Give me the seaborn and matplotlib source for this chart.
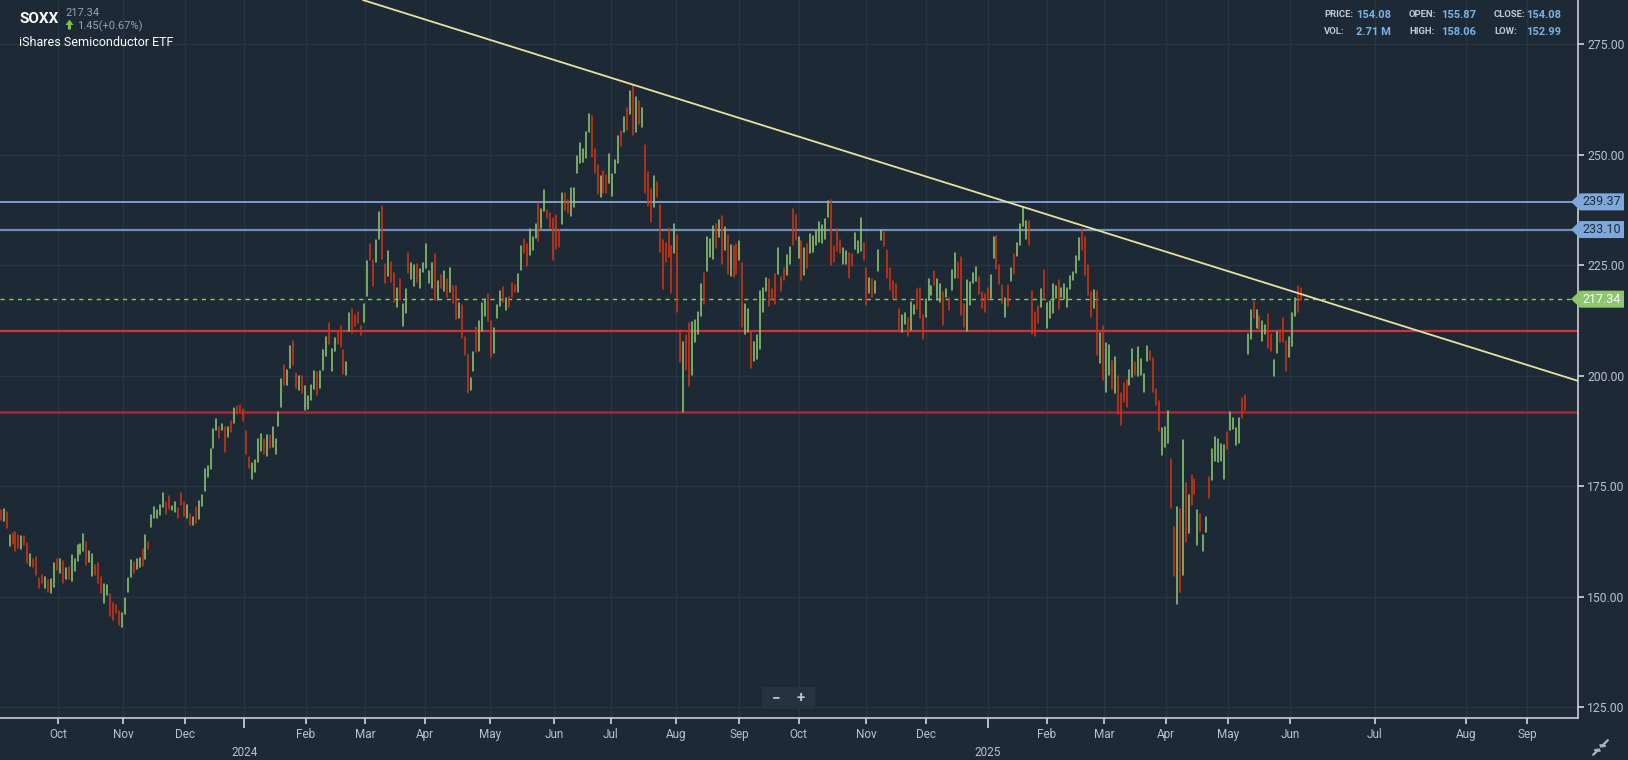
import matplotlib
matplotlib.use("Agg")
import matplotlib.pyplot as plt
import matplotlib.patches as mpatches
import matplotlib.transforms as mtrans
import numpy as np
import pandas as pd
import seaborn as sns

# ---------------- data ----------------
highs = [
    169.6, 169.8, 169.1, 163.9, 164.3, 164.6, 163.9, 163.7, 163.7, 162.2,
    159.6, 158.5, 158.9, 154.2, 154.9, 154.5, 153.7, 154.1, 157.5, 158.6,
    158.5, 158.0, 156.4, 156.6, 159.4, 158.6, 161.7, 161.9, 164.2, 162.3,
    160.4, 159.6, 157.1, 157.5, 154.5, 152.8, 152.6, 150.7, 148.5, 148.1,
    146.7, 146.4, 149.7, 154.2, 158.3, 157.8, 158.5, 158.8, 160.8, 163.9,
    162.4, 168.5, 170.3, 169.6, 170.7, 173.4, 171.4, 172.8, 170.5, 171.4,
    170.0, 173.4, 171.4, 170.7, 168.8, 168.0, 170.3, 171.6, 173.1, 178.9,
    179.6, 183.5, 187.9, 190.2, 188.4, 189.1, 188.4, 188.4, 189.7, 192.7,
    193.1, 193.4, 192.5, 187.6, 181.6, 180.2, 180.9, 185.7, 186.8, 185.7,
    186.6, 186.6, 188.4, 185.7, 191.8, 199.3, 202.4, 201.3, 206.7, 207.9,
    200.6, 199.9, 199.9, 197.7, 195.4, 197.9, 201.1, 200.8, 201.1, 205.8,
    208.8, 211.9, 206.0, 208.6, 210.1, 211.3, 205.8, 203.1, 214.3, 215.1,
    213.7, 214.5, 211.3, 216.2, 226.0, 229.9, 226.2, 230.7, 237.1, 238.4,
    225.3, 228.2, 225.7, 223.3, 219.9, 221.9, 216.2, 219.6, 227.8, 225.6,
    225.1, 225.4, 224.2, 225.6, 229.8, 223.7, 225.6, 227.6, 221.5, 222.7,
    223.7, 221.9, 224.4, 220.3, 220.3, 216.5, 216.1, 208.8, 204.7, 199.6,
    205.4, 211.0, 212.4, 216.5, 217.4, 218.5, 212.5, 210.8, 216.1, 219.1,
    220.1, 217.6, 217.8, 220.9, 220.5, 223.0, 229.4, 230.9, 229.9, 233.2,
    231.5, 234.4, 239.0, 237.7, 242.0, 237.5, 236.8, 235.7, 236.4, 233.0,
    241.3, 241.3, 239.9, 242.5, 242.5, 249.7, 252.6, 251.3, 255.2, 259.3,
    258.8, 251.3, 247.7, 245.2, 246.4, 245.5, 250.2, 245.7, 248.8, 254.3,
    255.5, 258.6, 260.6, 264.5, 265.9, 263.1, 262.2, 260.6, 252.2, 246.1,
    242.3, 245.2, 243.9, 238.7, 230.7, 230.1, 233.4, 229.4, 234.4, 231.9,
    210.4, 207.7, 209.2, 211.9, 212.2, 212.6, 214.4, 220.8, 223.3, 231.4,
    231.0, 233.9, 234.4, 235.3, 236.2, 233.7, 231.9, 229.6, 229.4, 229.8,
    230.5, 225.5, 216.2, 215.1, 209.9, 207.6, 209.2, 219.2, 219.9, 222.1,
    221.9, 219.7, 223.1, 228.9, 222.4, 224.5, 227.3, 229.1, 237.7, 236.4,
    231.4, 230.5, 228.9, 229.9, 232.1, 231.6, 232.8, 234.9, 234.1, 235.5,
    239.6, 239.8, 229.4, 233.2, 230.8, 228.9, 228.2, 227.8, 227.6, 232.3,
    230.5, 235.7, 230.1, 224.5, 222.2, 222.0, 221.5, 228.5, 232.9, 232.5,
    228.5, 224.4, 221.4, 220.8, 215.1, 213.7, 214.2, 213.1, 216.7, 216.1,
    219.6, 219.9, 213.7, 217.3, 222.0, 220.3, 223.7, 222.0, 220.8, 218.9,
    219.7, 217.6, 224.0, 227.8, 225.7, 226.9, 216.2, 221.7, 221.2, 223.3,
    224.6, 222.3, 218.9, 218.6, 219.9, 222.8, 231.4, 231.6, 225.1, 220.5,
    217.6, 220.5, 224.4, 227.6, 230.1, 234.4, 238.3, 235.0, 235.0, 219.2,
    214.4, 215.8, 219.6, 223.9, 216.5, 217.0, 220.8, 220.3, 221.7, 219.9,
    220.8, 219.9, 222.6, 223.5, 227.1, 231.2, 233.2, 231.4, 225.1, 219.0,
    219.4, 219.2, 209.7, 211.3, 207.4, 207.0, 203.3, 204.2, 199.9, 196.1,
    198.4, 199.0, 201.3, 206.0, 203.1, 206.5, 203.8, 200.4, 206.7, 205.6,
    204.0, 197.0, 194.3, 188.2, 188.4, 192.0, 181.1, 165.8, 170.3, 169.8,
    185.4, 175.7, 173.0, 177.5, 176.6, 169.6, 168.7, 163.9, 168.0, 177.1,
    183.4, 186.1, 185.7, 184.6, 184.3, 187.3, 191.8, 190.4, 188.2, 190.4,
    195.0, 195.6, 209.5, 214.9, 216.7, 214.9, 213.5, 212.4, 211.5, 214.0,
    209.5, 203.6, 209.9, 210.4, 213.1, 207.9, 208.8, 214.2, 217.6, 220.3,
    219.9,
]
lows = [
    167.3, 167.2, 165.6, 161.5, 161.9, 160.4, 161.0, 160.8, 161.7, 157.7,
    157.0, 156.8, 154.9, 152.0, 153.0, 152.0, 151.1, 150.9, 152.2, 156.0,
    155.4, 153.0, 153.9, 154.0, 153.6, 155.9, 158.1, 159.6, 160.4, 157.2,
    157.8, 154.7, 154.9, 153.0, 150.9, 148.6, 150.4, 145.5, 144.7, 146.2,
    143.5, 143.2, 146.1, 151.1, 154.5, 155.4, 156.3, 156.8, 156.9, 158.6,
    160.8, 165.8, 167.9, 167.9, 168.5, 170.3, 168.7, 169.9, 169.6, 169.2,
    167.9, 170.7, 168.3, 167.7, 166.2, 166.2, 166.6, 167.5, 170.6, 174.0,
    177.1, 178.9, 183.7, 187.7, 186.0, 187.7, 182.8, 186.2, 187.2, 189.4,
    191.3, 191.8, 189.8, 182.3, 179.2, 176.7, 178.3, 180.5, 182.9, 182.3,
    181.9, 183.7, 183.9, 182.3, 188.7, 193.0, 197.9, 197.9, 201.8, 202.5,
    197.2, 196.8, 196.2, 192.2, 192.5, 194.5, 197.0, 195.6, 197.3, 201.3,
    204.5, 207.3, 201.1, 205.5, 207.3, 206.4, 200.5, 200.2, 210.2, 209.7,
    211.3, 212.0, 209.2, 212.2, 218.1, 226.1, 220.4, 225.8, 230.9, 226.5,
    221.1, 222.6, 221.3, 216.8, 215.6, 217.1, 211.3, 214.1, 223.3, 221.9,
    220.4, 221.3, 219.9, 223.6, 224.4, 221.1, 219.9, 217.2, 217.1, 219.9,
    219.3, 217.9, 218.9, 216.4, 212.9, 213.1, 208.6, 204.7, 196.2, 196.8,
    201.1, 205.4, 205.7, 210.2, 213.5, 212.5, 204.3, 205.2, 213.1, 215.9,
    216.7, 215.0, 215.6, 217.9, 218.9, 218.9, 223.9, 227.8, 224.9, 227.3,
    228.5, 231.2, 230.6, 233.5, 237.4, 235.8, 233.4, 226.1, 228.7, 229.2,
    234.4, 237.5, 236.9, 236.2, 238.3, 246.0, 248.2, 248.5, 249.4, 255.2,
    249.6, 245.8, 241.1, 240.5, 241.4, 241.4, 243.6, 240.8, 245.8, 248.1,
    252.1, 255.2, 255.6, 259.3, 254.5, 255.2, 257.1, 256.4, 241.4, 238.5,
    234.9, 238.3, 240.5, 228.1, 219.6, 225.8, 227.0, 218.8, 227.9, 214.5,
    203.2, 191.9, 201.3, 197.7, 200.2, 207.7, 209.4, 213.6, 216.3, 223.8,
    226.8, 226.5, 229.0, 231.5, 225.4, 228.5, 223.1, 222.6, 222.4, 223.1,
    226.1, 211.1, 209.5, 210.0, 201.8, 203.4, 203.9, 206.1, 214.4, 219.3,
    215.9, 217.2, 216.3, 223.1, 219.3, 221.7, 222.8, 225.2, 229.6, 230.7,
    226.7, 221.7, 222.7, 224.5, 227.9, 228.1, 229.6, 230.2, 230.1, 231.0,
    236.0, 225.1, 225.8, 228.3, 227.9, 225.4, 225.4, 222.1, 224.9, 228.7,
    227.8, 228.2, 226.2, 216.0, 218.7, 217.8, 218.7, 223.8, 230.7, 229.4,
    222.2, 219.5, 217.3, 217.3, 210.0, 210.0, 211.7, 209.1, 210.4, 214.0,
    215.1, 213.1, 208.4, 213.4, 217.2, 218.3, 220.6, 217.2, 216.8, 211.5,
    217.9, 214.9, 219.4, 222.1, 222.2, 213.7, 211.1, 210.2, 216.1, 221.1,
    221.4, 218.6, 215.4, 214.4, 217.1, 217.7, 226.7, 224.2, 220.8, 216.5,
    213.4, 215.9, 221.5, 223.1, 227.2, 229.5, 234.0, 231.0, 229.5, 209.5,
    208.9, 211.9, 215.6, 217.2, 210.7, 213.1, 214.3, 217.6, 215.2, 217.9,
    217.4, 215.6, 219.6, 221.7, 223.3, 226.1, 228.5, 222.8, 218.3, 213.4,
    215.4, 204.7, 203.0, 199.0, 196.3, 200.2, 197.0, 196.1, 191.3, 188.9,
    194.0, 192.9, 197.9, 199.7, 200.2, 199.9, 200.2, 196.3, 203.3, 203.6,
    196.3, 193.4, 187.5, 182.0, 183.9, 184.8, 170.1, 154.7, 148.3, 151.0,
    154.9, 162.4, 164.4, 170.7, 173.2, 161.7, 164.9, 160.3, 164.6, 172.3,
    176.4, 180.7, 180.5, 180.7, 176.6, 183.4, 187.7, 187.9, 184.3, 184.8,
    190.4, 192.3, 204.9, 208.3, 213.1, 210.8, 210.6, 207.9, 209.5, 206.3,
    205.6, 199.9, 205.2, 207.6, 207.6, 201.1, 204.2, 206.7, 213.5, 214.4,
    217.2,
]
directions = (
    "RGRGRRRGRR" "GRRRRGRGGR" "GRGRGGGGGR" "GGRRRGGRRR" "RGGGGRGGRG"
    "RGGGGGRRGG" "RRRGRGRGGG" "GGGGRGRGRG" "RRRRRGGGGR" "GRGGGGRGGR"
    "RGRGGGGRGG" "GRGGRRRGGR" "RRRGGRRGGR" "RGRRGRGGRG" "GRGGGGGRGR"
    "GRGRRGRRRG" "GRGGGRRGGG" "RGRRRGGRRG" "GGRGGRRRRR" "GRRGGGGGGG"
    "RRRGRRGGGG" "RGRGRGRGRR" "RGRRRRRRGR" "RGRRGGGGRG" "GGRGRGRGRR"
    "GRGGRGGGGG" "RRRGRRGGRR" "GRGRGGGGGG" "GRRRRGGRRG" "GGRRGRGGGR"
    "RRRRRGGRGG" "RRRGGGRGGR" "GRGGRRRGGG" "GRRRRGGRRR" "GRGRGGGGRR"
    "RRGRGGGGRG" "GGGGGGRRRR" "GRGRGGRGRR" "RRGGRGGGGR" "RRRGGGRRGR"
    "GRGRRGRGGR" "GGGGGRGGGG" "RRGGRGRGGR" "RGGRRRGGGRR"
)

month_labels = ["Oct", "Nov", "Dec", "2024", "Feb", "Mar", "Apr", "May", "Jun",
                "Jul", "Aug", "Sep", "Oct", "Nov", "Dec", "2025", "Feb", "Mar",
                "Apr", "May", "Jun", "Jul", "Aug", "Sep"]
month_index = [19.5, 41.5, 62.5, 82.5, 103.3, 123.3, 143.5, 165.5, 187.2, 206.5,
               228.5, 250, 270, 293, 313, 334, 354, 373.5, 394.5, 415.5, 436.3,
               465, 496, 516.5]

resistance_levels = [239.37, 233.10]
support_levels = [210.2, 191.9]
last_price = 217.34
trend_anchor = (214, 265.9)
trend_slope = -0.2097

ticker = "SOXX"
name = "iShares Semiconductor ETF"
price_txt = "217.34"
change_txt = "1.45(+0.67%)"
info_labels = ["PRICE:", "OPEN:", "CLOSE:", "VOL:", "HIGH:", "LOW:"]
info_values = ["154.08", "155.87", "154.08", "2.71 M", "158.06", "152.99"]
y_ticks = [125, 150, 175, 200, 225, 250, 275]

# ---------------- style ----------------
BG = "#1d2935"
GRID = "#283644"
GREEN = "#8cc66e"
RED = "#d3320f"
AXIS = "#c9ced3"
TXT = "#bcc2c8"

sns.set_theme(style="dark")
plt.rcParams["font.family"] = ["Roboto", "DejaVu Sans"]

W, H = 1628, 760
fig = plt.figure(figsize=(W / 100, H / 100), dpi=100, facecolor=BG)
ax = fig.add_axes([0, 1 - 718 / H, 1578 / W, 718 / H])
ax.set_facecolor(BG)

n = len(highs)
df = pd.DataFrame({
    "idx": np.repeat(np.arange(n), 2),
    "price": np.column_stack([lows, highs]).ravel(),
    "bar": np.repeat(np.arange(n), 2),
    "dir": np.repeat(list(directions), 2),
})
sns.lineplot(data=df, x="idx", y="price", units="bar", estimator=None,
             hue="dir", palette={"G": GREEN, "R": RED}, linewidth=1.15,
             legend=False, sort=False, ax=ax, zorder=3)

ax.set_xlim(-0.24, 533.8)
ax.set_ylim(122.52, 285.07)
ax.set_xlabel("")
ax.set_ylabel("")

# grid
ax.set_xticks(month_index)
ax.set_yticks(y_ticks)
ax.grid(True, color=GRID, linewidth=1.0, zorder=0)
ax.set_axisbelow(True)

# tick labels
xt = [("\n" + lab) if lab.isdigit() else lab for lab in month_labels]
ax.set_xticklabels(xt, fontsize=8.5, color=TXT, linespacing=1.55)
ax.yaxis.tick_right()
ax.set_yticklabels([f"{v:.2f}" for v in y_ticks], fontsize=8.7, color=TXT)
ax.tick_params(axis="x", length=4, color=AXIS, pad=3, bottom=True)
ax.tick_params(axis="y", length=4, color=AXIS, pad=2.5, right=True, left=False)
for t, lab in zip(ax.xaxis.get_major_ticks(), month_labels):
    if lab.isdigit():
        t.tick1line.set_linestyle(":")
        t.tick1line.set_markersize(7)

for s in ["top", "left"]:
    ax.spines[s].set_visible(False)
for s in ["right", "bottom"]:
    ax.spines[s].set_color(AXIS)
    ax.spines[s].set_linewidth(1.2)

# horizontal levels
ax.axhline(resistance_levels[0], color="#8fb2df", lw=1.2, zorder=2)
ax.axhline(resistance_levels[1], color="#7090b8", lw=1.6, zorder=2)
ax.axhline(support_levels[0], color="#cf333c", lw=1.6, zorder=2)
ax.axhline(support_levels[1], color="#a02a36", lw=1.8, zorder=2)
ax.axhline(last_price, color=GREEN, lw=1.0, ls=(0, (3, 3.3)), zorder=2)
ax.axline(trend_anchor, slope=trend_slope, color="#ebe19f", lw=1.3, zorder=4)

# price tags on the right axis
blend = mtrans.blended_transform_factory(ax.transAxes, ax.transData)
axw = 1578.0
hh = 8.5 / 4.417
def tag(v, fill, tcol):
    x0, x1, x2 = 1571 / axw, 1580 / axw, 1624 / axw
    poly = mpatches.Polygon([(x0, v), (x1, v + hh), (x2, v + hh), (x2, v - hh), (x1, v - hh)],
                            closed=True, transform=blend, facecolor=fill, edgecolor="none",
                            clip_on=False, zorder=6)
    ax.add_patch(poly)
    ax.text(1602 / axw, v, f"{v:.2f}", transform=blend, ha="center", va="center",
            fontsize=9, color=tcol, zorder=7, clip_on=False)

tag(resistance_levels[0], "#7fa7da", "#1d2935")
tag(resistance_levels[1], "#7fa7da", "#1d2935")
tag(last_price, "#8cc66e", "white")

# header text
def fx(px): return px / W
def fy(py): return 1 - py / H

fig.text(fx(19), fy(19), ticker, fontsize=11, fontweight="bold", color="white", va="center")
fig.text(fx(65), fy(12.5), price_txt, fontsize=8, color="#9aa2aa", va="center")
arrow = mpatches.Polygon([(fx(65.5), fy(25)), (fx(69.5), fy(19.5)), (fx(73.5), fy(25)),
                          (fx(71), fy(25)), (fx(71), fy(29.5)), (fx(68), fy(29.5)), (fx(68), fy(25))],
                         closed=True, transform=fig.transFigure, facecolor="#7cc242", edgecolor="none")
fig.patches.append(arrow)
fig.text(fx(77), fy(26), change_txt, fontsize=8, color="#9aa2aa", va="center")
fig.text(fx(19), fy(42), name, fontsize=9, color="white", va="center")

# info panel
lab_x = [1324, 1409, 1494, 1324, 1409, 1494]
lab_y = [14.7, 14.7, 14.7, 31.7, 31.7, 31.7]
for lab, val, lx, ly in zip(info_labels, info_values, lab_x, lab_y):
    fig.text(fx(lx), fy(ly), lab, fontsize=6.8, fontweight="bold", color="#c3c9cf", va="center")
    fig.text(fx(lx + 32.5), fy(ly), val, fontsize=8, fontweight="bold", color="#78b4e6", va="center")

# zoom buttons
fig.patches.append(mpatches.Rectangle((fx(762), fy(709)), (815 - 762) / W, (709 - 687) / H,
                                      transform=fig.transFigure, facecolor="#26323e", edgecolor="none"))
fig.text(fx(776), fy(698), "−", fontsize=11, fontweight="bold", color="#c0c6cc", ha="center", va="center")
fig.text(fx(801), fy(698), "+", fontsize=11, fontweight="bold", color="#c0c6cc", ha="center", va="center")

# collapse icon at the bottom right
for (x0, y0, x1, y1) in [(1608, 740, 1601, 747), (1593, 755, 1599, 749)]:
    fig.patches.append(mpatches.FancyArrow(fx(x0), fy(y0), fx(x1) - fx(x0), fy(y1) - fy(y0),
                                           width=0.0006, head_width=0.004, head_length=0.0025,
                                           length_includes_head=True, transform=fig.transFigure,
                                           color="#aab1b8"))

fig.savefig("out.png", dpi=100, facecolor=BG)
